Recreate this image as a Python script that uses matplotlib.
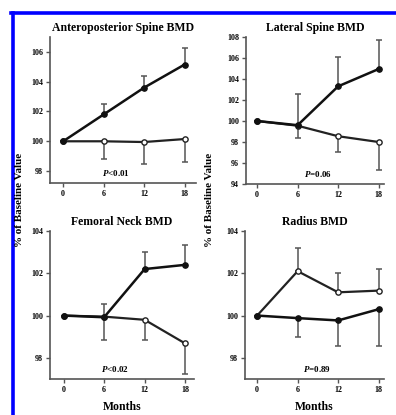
import matplotlib
matplotlib.use("Agg")
import matplotlib.pyplot as plt
from matplotlib.lines import Line2D

plt.rcParams['font.family'] = ['Liberation Serif', 'DejaVu Serif']
plt.rcParams['font.weight'] = 'bold'
plt.rcParams['mathtext.fontset'] = 'custom'
plt.rcParams['mathtext.it'] = 'Liberation Serif:italic:bold'
plt.rcParams['mathtext.rm'] = 'Liberation Serif:bold'

months = [0, 6, 12, 18]

titles = ["Anteroposterior Spine BMD", "Lateral Spine BMD", "Femoral Neck BMD", "Radius BMD"]
pvalues = [r"$\it{P}$<0.01", r"$\it{P}$=0.06", r"$\it{P}$<0.02", r"$\it{P}$=0.89"]

# filled circles (treatment) and open circles (control), with one-sided SE bars
filled_vals = [[100, 101.8, 103.6, 105.15],
               [100, 99.6, 103.3, 104.95],
               [100, 99.92, 102.2, 102.4],
               [100, 99.88, 99.77, 100.3]]
filled_err = [[0, 0.7, 0.8, 1.1],
              [0, 3.0, 2.8, 2.75],
              [0, 0.64, 0.8, 0.92],
              [0, 0.9, 1.22, 1.75]]
open_vals = [[100, 100.0, 99.95, 100.15],
             [100, 99.55, 98.55, 98.0],
             [100, 99.95, 99.8, 98.68],
             [100, 102.1, 101.1, 101.18]]
open_err = [[0, 1.2, 1.5, 1.55],
            [0, 1.15, 1.55, 2.65],
            [0, 1.1, 0.96, 1.43],
            [0, 1.1, 0.9, 1.0]]
# +1: bar goes up, -1: bar goes down
filled_dir = [1, 1, 1, -1]
open_dir = [-1, -1, -1, 1]

yticks = [[98, 100, 102, 104, 106],
          [94, 96, 98, 100, 102, 104, 106, 108],
          [98, 100, 102, 104],
          [98, 100, 102, 104]]
ylims = [(97.2, 107.0), (94, 108), (97, 104), (97, 104)]

W, H = 396, 415
fig = plt.figure(figsize=(W / 100, H / 100), dpi=100)

# axes boxes in pixels: left, top, right, bottom
boxes = [(50, 37, 196, 183), (246, 37, 384, 184), (50, 231, 194, 379), (245, 231, 384, 379)]
xlims = [(-1.95, 19.7), (-1.65, 18.8), (-2.0, 19.3), (-1.8, 18.8)]

axes = []
for i, (l, t, r, b) in enumerate(boxes):
    ax = fig.add_axes([l / W, 1 - b / H, (r - l) / W, (b - t) / H])
    axes.append(ax)
    ax.set_xlim(*xlims[i])
    ax.set_ylim(*ylims[i])
    for s in ['top', 'right']:
        ax.spines[s].set_visible(False)
    for s in ['left', 'bottom']:
        ax.spines[s].set_color('#555555')
        ax.spines[s].set_linewidth(1.2)
    ax.set_xticks(months)
    ax.set_yticks(yticks[i])
    ax.tick_params(axis='both', labelsize=5.8, length=3, width=1, color='#555555', pad=2)

    fv, ov = filled_vals[i], open_vals[i]
    fe = [e if filled_dir[i] > 0 else 0 for e in filled_err[i]], [e if filled_dir[i] < 0 else 0 for e in filled_err[i]]
    oe = [e if open_dir[i] > 0 else 0 for e in open_err[i]], [e if open_dir[i] < 0 else 0 for e in open_err[i]]
    ax.errorbar(months, fv, yerr=[fe[1], fe[0]], fmt='none', ecolor='#555555',
                elinewidth=1.1, capsize=2.5, capthick=1.1, zorder=2)
    ax.errorbar(months, ov, yerr=[oe[1], oe[0]], fmt='none', ecolor='#555555',
                elinewidth=1.1, capsize=2.5, capthick=1.1, zorder=2)
    ax.plot(months, ov, '-o', color='#222222', lw=1.6, ms=3.8, mfc='white', mec='#222222',
            mew=1.0, zorder=3)
    ax.plot(months, fv, '-o', color='#111111', lw=1.8, ms=3.8, mfc='#111111', mec='#111111',
            zorder=4)
    ax.set_title(titles[i], fontsize=8.5, fontweight='bold', pad=4)
    ax.text(0.45 if i % 2 == 0 else 0.52, 0.07, pvalues[i], transform=ax.transAxes,
            fontsize=6.5, ha='center', va='center')

axes[2].set_xlabel('Months', fontsize=8.5, fontweight='bold', labelpad=5)
axes[3].set_xlabel('Months', fontsize=8.5, fontweight='bold', labelpad=5)

for xp in [20, 210]:
    fig.text(xp / W, 1 - 200 / H, '% of Baseline Value', rotation=90, fontsize=8,
             fontweight='bold', ha='center', va='center')

# blue frame along the left and top edges
fig.add_artist(Line2D([12.5 / W, 12.5 / W], [0, 1 - 13.5 / H], transform=fig.transFigure,
                      color='#0000ff', lw=2.6))
fig.add_artist(Line2D([11.2 / W, 1], [1 - 13.5 / H, 1 - 13.5 / H], transform=fig.transFigure,
                      color='#0000ff', lw=2.6))

fig.savefig('out.png', dpi=100)
